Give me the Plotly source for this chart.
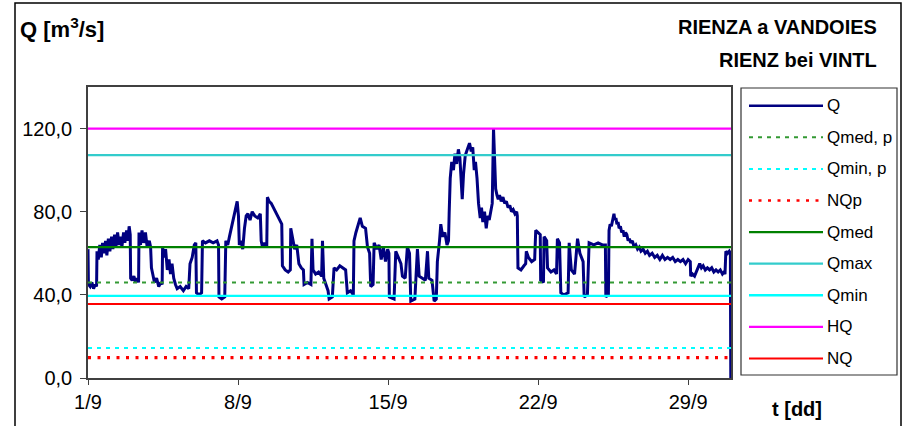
import plotly.graph_objects as go

# ---------------- data ----------------
# time in days since 1 September 00:00
q_days = [0.00, 0.02, 0.10, 0.18, 0.26, 0.34, 0.40, 0.42, 0.48, 0.55, 0.62, 0.68, 0.75, 0.82, 0.88, 0.95,
          1.02, 1.10, 1.16, 1.24, 1.30, 1.38, 1.45, 1.52, 1.58, 1.66, 1.72, 1.80, 1.86, 1.92, 1.97,
          1.99, 2.06, 2.14, 2.22, 2.30, 2.36, 2.38, 2.45, 2.52, 2.60, 2.68, 2.76, 2.86, 2.92, 2.96,
          3.02, 3.10, 3.20, 3.30, 3.40, 3.46, 3.48, 3.55, 3.62, 3.70, 3.78, 3.85, 3.92, 4.00, 4.08,
          4.16, 4.30, 4.45, 4.58, 4.70, 4.76, 4.86, 4.96, 5.03, 5.06, 5.18, 5.30, 5.34, 5.48, 5.66,
          5.84, 6.02, 6.09, 6.11, 6.24, 6.38, 6.43, 6.52, 6.60, 6.72, 6.84, 6.96, 7.02, 7.06,
          7.14, 7.22, 7.30, 7.38, 7.46, 7.56, 7.66, 7.78, 7.92, 8.04, 8.08, 8.14, 8.24, 8.34, 8.37,
          8.45, 8.55, 8.65, 8.75, 8.85, 8.95, 9.04, 9.07, 9.20, 9.34, 9.44, 9.46, 9.55, 9.64, 9.74,
          9.84, 9.95, 10.05, 10.08, 10.24, 10.40, 10.45, 10.50, 10.62, 10.76, 10.90, 10.94, 11.00,
          11.10, 11.20, 11.25, 11.40, 11.48, 11.60, 11.75, 11.90, 12.02, 12.10, 12.25, 12.38, 12.41,
          12.50, 12.60, 12.70, 12.80, 12.95, 13.04, 13.14, 13.19, 13.30, 13.35, 13.48, 13.58, 13.68,
          13.78, 13.88, 13.98, 14.04, 14.06, 14.28, 14.36, 14.48, 14.60, 14.67, 14.80, 14.90, 15.00,
          15.06, 15.25, 15.37, 15.45, 15.60, 15.74, 15.84, 15.90, 16.05, 16.15, 16.25, 16.30, 16.40,
          16.46, 16.55, 16.65, 16.75, 16.82, 16.85, 16.90, 16.97, 17.05, 17.12, 17.20, 17.28, 17.35,
          17.40, 17.46, 17.52, 17.60, 17.70, 17.80, 17.88, 17.95, 18.02, 18.08, 18.15, 18.22, 18.30,
          18.36, 18.42, 18.50, 18.58, 18.65, 18.72, 18.80, 18.86, 18.92, 18.97, 19.02, 19.08, 19.14,
          19.20, 19.28, 19.36, 19.44, 19.52, 19.60, 19.68, 19.76, 19.84, 19.92, 20.00, 20.03,
          20.06, 20.20, 20.34, 20.42, 20.45, 20.55, 20.70,
          20.84, 20.89, 21.00, 21.10, 21.12, 21.25, 21.28, 21.40, 21.44, 21.60, 21.74, 21.86, 21.90,
          22.00, 22.06, 22.20, 22.40, 22.45, 22.55, 22.70, 22.84, 22.95, 23.10, 23.15, 23.30, 23.38,
          23.60, 23.80, 24.00, 24.14, 24.16, 24.28, 24.31, 24.36, 24.42, 24.48, 24.54, 24.58, 24.63,
          24.68, 24.73, 24.78, 24.84, 24.90, 24.96, 25.02, 25.08, 25.14, 25.20, 25.26, 25.32, 25.40,
          25.48, 25.56, 25.64, 25.72, 25.80, 25.90, 26.00, 26.10, 26.20, 26.32, 26.44, 26.56, 26.68,
          26.80, 26.92, 27.04, 27.16, 27.28, 27.40, 27.52, 27.64, 27.76, 27.88, 28.00, 28.10, 28.12,
          28.20, 28.30, 28.38, 28.46, 28.54, 28.62, 28.70, 28.80, 28.90, 29.00, 29.10, 29.20, 29.30,
          29.40, 29.50, 29.60, 29.68, 29.72, 29.76, 29.84, 29.92, 29.97, 29.99]
q_values = [62, 45, 44, 46, 43, 45, 44, 61, 57, 64, 58, 65, 60, 66, 59, 67,
            61, 68, 62, 69, 63, 70, 64, 68, 63, 70, 65, 71, 66, 73, 69,
            48, 47, 49, 46, 48, 46, 70, 64, 71, 65, 70, 63, 66, 63, 53,
            50, 46, 48, 44, 46, 45, 63, 58, 62, 52, 57, 50, 55, 48, 45,
            43, 44, 42, 44, 43, 55, 58, 64, 65, 41, 40, 41, 66, 65, 66,
            65, 66, 64, 39, 38, 39, 66, 64, 68, 74, 80, 85, 78, 64,
            66, 62, 72, 78, 79, 76, 80, 78, 77, 79, 66, 63, 65, 63, 87,
            85, 84, 82, 80, 78, 76, 74, 54, 52, 51, 52, 72, 66, 62, 64,
            55, 53, 52, 45, 46, 45, 67, 52, 50, 51, 49, 66, 48,
            45, 42, 38, 39, 53, 52, 54, 53, 52, 41, 42, 40, 66,
            70, 74, 77, 73, 72, 63, 60, 44, 45, 65, 62, 64, 57,
            63, 56, 62, 60, 39, 38, 61, 58, 55, 49, 48, 63, 60,
            37, 38, 62, 49, 48, 47, 61, 48, 47, 37, 38, 56, 66,
            74, 68, 70, 64, 66, 79, 96, 104, 100, 108, 103, 110, 106,
            97, 86, 98, 107, 110, 113, 109, 111, 100, 104, 96, 84, 77,
            82, 75, 80, 72, 78, 76, 82, 84, 120, 104, 91, 88, 86,
            88, 85, 87, 84, 85, 82, 83, 80, 81, 79, 80, 78,
            53, 52, 54, 55, 61, 58, 56,
            57, 71, 70, 69, 47, 46, 68, 66, 53, 51, 52, 50, 67,
            65, 41, 40, 41, 65, 52, 50, 67, 60, 56, 39, 40, 65,
            64, 65, 64, 64, 39, 40, 71, 74, 73, 77, 79, 76, 77,
            74, 75, 72, 73, 70, 71, 68, 70, 69, 66, 67, 65, 66,
            63, 64, 62, 63, 61, 62, 60, 61, 59, 60, 58, 59, 57,
            59, 57, 58, 57, 58, 56, 57, 56, 57, 55, 57, 56, 49,
            50, 49, 51, 53, 55, 53, 54, 52, 53, 52, 53, 51, 52,
            51, 52, 50, 51, 50, 61, 60, 61, 60, 0]

ref_names = ["Qmed, p", "Qmin, p", "NQp", "Qmed", "Qmax", "Qmin", "HQ", "NQ"]
ref_values = [46.0, 14.4, 9.8, 63.0, 107.2, 39.5, 120.0, 35.6]

x_range = [0, 30]
x_tick_vals = [0, 7, 14, 21, 28]
x_tick_text = ["1/9", "8/9", "15/9", "22/9", "29/9"]
y_range = [0, 140]
y_tick_vals = [0, 40, 80, 120]
y_tick_text = ["0,0", "40,0", "80,0", "120,0"]

# ---------------- styles ----------------
q_style = dict(color="#000080", width=3, dash="solid")
ref_styles = {
    "Qmed, p": dict(color="#339933", width=2, dash="4px,5px"),
    "Qmin, p": dict(color="#00FFFF", width=2, dash="4px,5px"),
    "NQp": dict(color="#FF0000", width=3.2, dash="3px,6.5px"),
    "Qmed": dict(color="#008000", width=2.2, dash="solid"),
    "Qmax": dict(color="#33CCCC", width=2.2, dash="solid"),
    "Qmin": dict(color="#00FFFF", width=2.4, dash="solid"),
    "HQ": dict(color="#FF00FF", width=2.2, dash="solid"),
    "NQ": dict(color="#FF0000", width=2.2, dash="solid"),
}

W, H = 906, 426
L, R, T, B = 88, 731, 87, 378  # plot area in pixels
FONT = "Arial, Liberation Sans, sans-serif"


def px(x):
    return (x - L) / (R - L)


def py(y):
    return (B - y) / (B - T)


fig = go.Figure()
fig.add_trace(go.Scatter(x=q_days, y=q_values, mode="lines", line=q_style,
                         name="Q", showlegend=False, hoverinfo="skip"))
for name, val in zip(ref_names, ref_values):
    fig.add_trace(go.Scatter(x=x_range, y=[val, val], mode="lines",
                             line=ref_styles[name], name=name,
                             showlegend=False, hoverinfo="skip"))

shapes = []
annotations = []

# outer chart border
shapes.append(dict(type="rect", xref="paper", yref="paper",
                   x0=px(15), x1=px(901), y0=py(440), y1=py(3),
                   line=dict(color="#000000", width=1.5), layer="below"))
# legend box
shapes.append(dict(type="rect", xref="paper", yref="paper",
                   x0=px(741), x1=px(897), y0=py(375), y1=py(88),
                   line=dict(color="#333333", width=1.2)))

legend_entries = [("Q", q_style)] + [(n, ref_styles[n]) for n in ref_names]
for i, (name, st) in enumerate(legend_entries):
    yy = 105.7 + i * 31.6
    shapes.append(dict(type="line", xref="paper", yref="paper",
                       x0=px(749), x1=px(823), y0=py(yy), y1=py(yy),
                       line=dict(color=st["color"], width=min(st["width"], 2.6),
                                 dash=st["dash"])))
    annotations.append(dict(text=name, xref="paper", yref="paper",
                            x=px(825), y=py(yy), xanchor="left", yanchor="middle",
                            showarrow=False,
                            font=dict(family=FONT, size=17, color="#000000")))

annotations += [
    dict(text="<b>Q [m<sup>3</sup>/s]</b>", xref="paper", yref="paper",
         x=px(18), y=py(28), xanchor="left", yanchor="middle", showarrow=False,
         font=dict(family=FONT, size=22, color="#000000")),
    dict(text="<b>RIENZA a VANDOIES</b>", xref="paper", yref="paper",
         x=px(879), y=py(27), xanchor="right", yanchor="middle", showarrow=False,
         font=dict(family=FONT, size=20, color="#000000")),
    dict(text="<b>RIENZ bei VINTL</b>", xref="paper", yref="paper",
         x=px(879), y=py(60), xanchor="right", yanchor="middle", showarrow=False,
         font=dict(family=FONT, size=20, color="#000000")),
    dict(text="<b>t [dd]</b>", xref="paper", yref="paper",
         x=px(770), y=py(409), xanchor="left", yanchor="middle", showarrow=False,
         font=dict(family=FONT, size=20, color="#000000")),
]

fig.update_layout(
    width=W, height=H,
    margin=dict(l=L, r=W - R, t=T, b=H - B, pad=0),
    paper_bgcolor="#FFFFFF", plot_bgcolor="#FFFFFF",
    showlegend=False,
    shapes=shapes, annotations=annotations,
    font=dict(family=FONT, size=20, color="#000000"),
)
fig.update_xaxes(range=x_range, tickmode="array", tickvals=x_tick_vals, ticktext=x_tick_text,
                 showgrid=False, zeroline=False, showline=True, mirror=True,
                 linecolor="#404040", linewidth=1.5, ticks="outside", ticklen=5,
                 tickcolor="#404040", tickwidth=1.2,
                 tickfont=dict(family=FONT, size=20, color="#000000"))
fig.update_yaxes(range=y_range, tickmode="array", tickvals=y_tick_vals, ticktext=y_tick_text,
                 showgrid=False, zeroline=False, showline=True, mirror=True,
                 linecolor="#404040", linewidth=1.5, ticks="outside", ticklen=6,
                 tickcolor="#404040", tickwidth=1.2, ticklabelstandoff=4,
                 tickfont=dict(family=FONT, size=20, color="#000000"))

fig.write_html("out.html", config={"displayModeBar": False},
               post_script="document.body.style.margin='0px';document.body.style.overflow='hidden';")
